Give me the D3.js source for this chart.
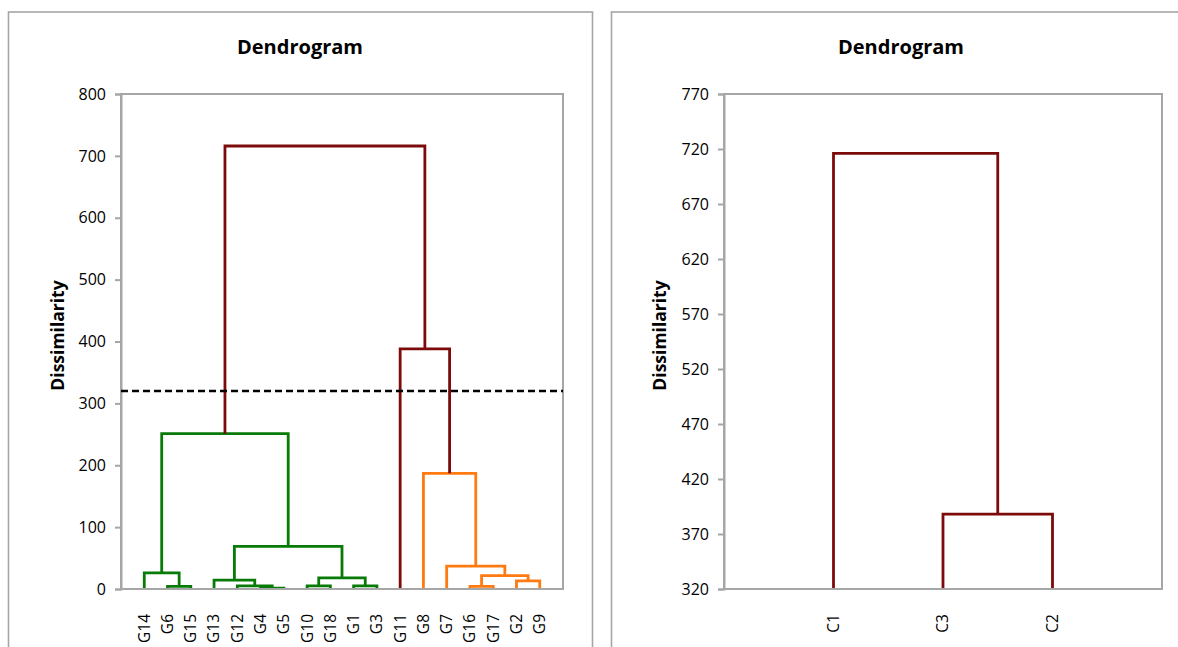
<!DOCTYPE html>
<html>
<head>
<meta charset="utf-8">
<script src="https://cdn.jsdelivr.net/npm/d3@7"></script>
<style>
  html, body { margin: 0; padding: 0; background: #fff; }
  svg { display: block; font-family: "Open Sans", "DejaVu Sans", sans-serif; }
</style>
</head>
<body>
<svg id="chart" width="1178" height="647"></svg>
<script>
// ---------- DATA ----------
// Left dendrogram: leaf order (left to right)
const leavesLeft = ["G14","G6","G15","G13","G12","G4","G5","G10","G18","G1","G3","G11","G8","G7","G16","G17","G2","G9"];
// merges: [id, left child, right child, dissimilarity, cluster colour key]
const mergesLeft = [
  ["m1",  "G6",  "G15", 4.4,  "green"],
  ["m2",  "G14", "m1",  26,   "green"],
  ["m3",  "G4",  "G5",  1.5,  "green"],
  ["m4",  "G12", "m3",  5,    "green"],
  ["m5",  "G13", "m4",  14.5, "green"],
  ["m6",  "G10", "G18", 5,    "green"],
  ["m7",  "G1",  "G3",  5,    "green"],
  ["m8",  "m6",  "m7",  18,   "green"],
  ["m9",  "m5",  "m8",  69,   "green"],
  ["m10", "m2",  "m9",  251,  "green"],
  ["m11", "G16", "G17", 4.4,  "orange"],
  ["m12", "G2",  "G9",  13,   "orange"],
  ["m13", "m11", "m12", 21.5, "orange"],
  ["m14", "G7",  "m13", 37,   "orange"],
  ["m15", "G8",  "m14", 187,  "orange"],
  ["m16", "G11", "m15", 388,  "red"],
  ["m17", "m10", "m16", 716,  "red"]
];
const yTicksLeft = [0,100,200,300,400,500,600,700,800];
const truncationLevel = 320;

// Right dendrogram (clusters)
const leavesRight = ["C1","C3","C2"];
const mergesRight = [
  ["n1", "C3", "C2", 388, "red"],
  ["n2", "C1", "n1", 716, "red"]
];
const yTicksRight = [320,370,420,470,520,570,620,670,720,770];

const chartTitle = "Dendrogram";
const axisTitle = "Dissimilarity";

// ---------- STYLE ----------
const colors = { green: "#087a08", orange: "#ff7a10", red: "#7d0a0a" };
const gridGray = "#a6a6a6";

const svg = d3.select("#chart");

function drawDendro(cfg) {
  const g = svg.append("g");
  // outer chart frame
  g.append("rect")
    .attr("x", cfg.frame[0]).attr("y", cfg.frame[1])
    .attr("width", cfg.frame[2]).attr("height", cfg.frame[3])
    .attr("fill", "none").attr("stroke", gridGray).attr("stroke-width", 1.6);

  const x = d3.scaleLinear().domain([0, cfg.leaves.length + 1]).range([cfg.left, cfg.right]);
  const y = d3.scaleLinear().domain(cfg.yDomain).range([cfg.bottom, cfg.top]);

  // title
  g.append("text")
    .attr("x", cfg.titleX).attr("y", 54)
    .attr("text-anchor", "middle")
    .attr("font-size", 20).attr("font-weight", "bold")
    .attr("fill", "#000")
    .text(chartTitle);

  // plot frame
  g.append("rect")
    .attr("x", cfg.left).attr("y", cfg.top)
    .attr("width", cfg.right - cfg.left).attr("height", cfg.bottom - cfg.top)
    .attr("fill", "none").attr("stroke", gridGray).attr("stroke-width", 2);

  // y axis
  const ax = g.append("g")
    .attr("transform", `translate(${cfg.left},0)`)
    .call(d3.axisLeft(y).tickValues(cfg.yTicks).tickSize(6).tickPadding(9).tickFormat(d3.format("d")));
  ax.select(".domain").attr("stroke", gridGray).attr("stroke-width", 2);
  ax.selectAll(".tick line").attr("stroke", gridGray).attr("stroke-width", 2);
  ax.selectAll(".tick text").attr("font-size", 16).attr("fill", "#000")
    .attr("font-family", "'Open Sans', sans-serif");

  // axis title
  g.append("text")
    .attr("transform", `translate(${cfg.axisTitleX},${(cfg.top + cfg.bottom) / 2 - 6}) rotate(-90)`)
    .attr("text-anchor", "middle")
    .attr("dy", "0.35em")
    .attr("font-size", 17.5).attr("font-weight", "bold")
    .attr("fill", "#000")
    .text(axisTitle);

  // node positions
  const pos = {};
  cfg.leaves.forEach((name, i) => { pos[name] = { x: i + 1, h: cfg.yDomain[0] }; });
  cfg.merges.forEach(([id, a, b, h]) => {
    pos[id] = { x: (pos[a].x + pos[b].x) / 2, h: h };
  });

  // links
  cfg.merges.forEach(([id, a, b, h, c]) => {
    const p = d3.path();
    p.moveTo(x(pos[a].x), y(pos[a].h));
    p.lineTo(x(pos[a].x), y(h));
    p.lineTo(x(pos[b].x), y(h));
    p.lineTo(x(pos[b].x), y(pos[b].h));
    g.append("path")
      .attr("d", p.toString())
      .attr("fill", "none")
      .attr("stroke", colors[c])
      .attr("stroke-width", 2.8)
      .attr("stroke-linejoin", "miter");
  });

  // bottom axis line (over links)
  g.append("line")
    .attr("x1", cfg.left).attr("x2", cfg.right)
    .attr("y1", cfg.bottom).attr("y2", cfg.bottom)
    .attr("stroke", gridGray).attr("stroke-width", 2);

  // truncation line
  if (cfg.cut !== undefined) {
    g.append("line")
      .attr("x1", cfg.left).attr("x2", cfg.right)
      .attr("y1", y(cfg.cut)).attr("y2", y(cfg.cut))
      .attr("stroke", "#000").attr("stroke-width", 2.5)
      .attr("stroke-dasharray", "7,4");
  }

  // leaf labels
  cfg.leaves.forEach((name, i) => {
    g.append("text")
      .attr("transform", `translate(${x(i + 1)},614) rotate(-90)`)
      .attr("text-anchor", "end")
      .attr("dy", "0.35em")
      .attr("font-size", 15.5)
      .attr("fill", "#000")
      .text(name);
  });
}

drawDendro({
  frame: [8.5, 12, 584, 700],
  left: 121, right: 563, top: 94, bottom: 589,
  titleX: 300, axisTitleX: 58,
  leaves: leavesLeft, merges: mergesLeft,
  yDomain: [0, 800], yTicks: yTicksLeft,
  cut: truncationLevel
});

drawDendro({
  frame: [611.5, 12, 700, 700],
  left: 724, right: 1162, top: 94, bottom: 589,
  titleX: 901, axisTitleX: 660,
  leaves: leavesRight, merges: mergesRight,
  yDomain: [320, 770], yTicks: yTicksRight
});
</script>
</body>
</html>
